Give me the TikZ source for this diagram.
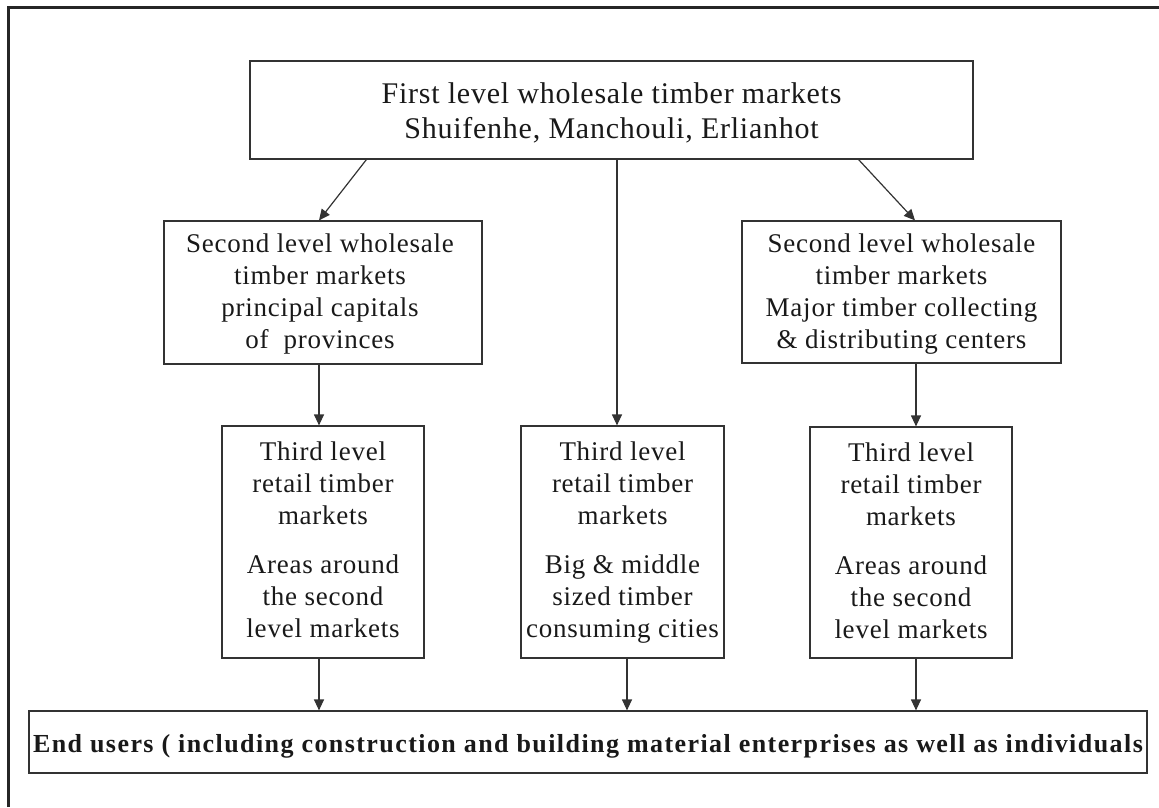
\documentclass[tikz,border=0pt]{standalone}
\usepackage{fontspec}
\setmainfont{Liberation Serif}
\newfontfamily\spacedA[LetterSpace=2.5]{Liberation Serif}
\newfontfamily\spacedB[LetterSpace=2.8]{Liberation Serif}
\newfontfamily\spacedC[LetterSpace=5.5]{Liberation Serif}
\usetikzlibrary{arrows.meta}
\tikzset{
  box/.style={draw=black!80, line width=1.2pt, rectangle, inner sep=0pt},
  txt/.style={align=center, inner sep=0pt, text=black!90},
  tA/.style={txt, font=\spacedA\fontsize{30}{35}\selectfont},
  tB/.style={txt, font=\spacedB\fontsize{27}{32}\selectfont},
  tC/.style={txt, font=\spacedC\fontsize{26}{30}\selectfont\bfseries},
  arr/.style={draw=black!80, line width=1.2pt, -{Triangle[length=11pt,width=10pt]}},
}
\begin{document}
\begin{tikzpicture}[x=1pt,y=-1pt]
\useasboundingbox (0,0) rectangle (1159,807);
\draw[line width=3pt, black!85] (8,807) -- (8,7) -- (1159,7);
\node[box, minimum width=723pt, minimum height=98pt] (top) at (611.5,110) {};
\node[box, minimum width=318pt, minimum height=143pt] (L2) at (323,292.5) {};
\node[box, minimum width=319pt, minimum height=142pt] (R2) at (901.5,292) {};
\node[box, minimum width=202pt, minimum height=232pt] (L3) at (323,542) {};
\node[box, minimum width=203pt, minimum height=232pt] (M3) at (622.5,542) {};
\node[box, minimum width=202pt, minimum height=231pt] (R3) at (911,542.5) {};
\node[box, minimum width=1118pt, minimum height=62pt] (end) at (588,742) {};
\node[tA] (topT) at ([yshift=-3.5pt]top.center)
  {\strut First level wholesale timber markets\\Shuifenhe, Manchouli, Erlianhot\strut};
\node[tB] (L2T) at ([xshift=-3pt,yshift=-2pt]L2.center)
  {\strut Second level wholesale\\timber markets\\principal capitals\\of~ provinces\strut};
\node[tB] (R2T) at ([yshift=-2.5pt]R2.center)
  {\strut Second level wholesale\\timber markets\\Major timber collecting\\\& distributing centers\strut};
\node[tB] (L3T) at ([yshift=-1pt]L3.center)
  {\strut Third level\\retail timber\\markets\\[17pt]Areas around\\the second\\level markets\strut};
\node[tB] (M3T) at ([yshift=-1pt]M3.center)
  {\strut Third level\\retail timber\\markets\\[17pt]Big \& middle\\sized timber\\consuming cities\strut};
\node[tB] (R3T) at ([yshift=-1pt]R3.center)
  {\strut Third level\\retail timber\\markets\\[17pt]Areas around\\the second\\level markets\strut};
\node[tC] (endT) at ([yshift=-4.5pt]end.center)
  {\strut End users ( including construction and building material enterprises as well as individuals};
\draw[arr] ([xshift=117pt]top.south west) -- ([xshift=-4pt]L2.north);
\draw[arr] ([xshift=-115pt]top.south east) -- ([xshift=13.5pt]R2.north);
\draw[arr] ([xshift=-5.5pt]M3.north |- top.south) -- ([xshift=-5.5pt]M3.north);
\draw[arr] ([xshift=-4pt]L2.south) -- ([xshift=-4pt]L3.north);
\draw[arr] ([xshift=5pt]R3.north |- R2.south) -- ([xshift=5pt]R3.north);
\draw[arr] ([xshift=-4pt]L3.south) -- ([xshift=-4pt]L3.south |- end.north);
\draw[arr] ([xshift=4.5pt]M3.south) -- ([xshift=4.5pt]M3.south |- end.north);
\draw[arr] ([xshift=5pt]R3.south) -- ([xshift=5pt]R3.south |- end.north);
\end{tikzpicture}
\end{document}
